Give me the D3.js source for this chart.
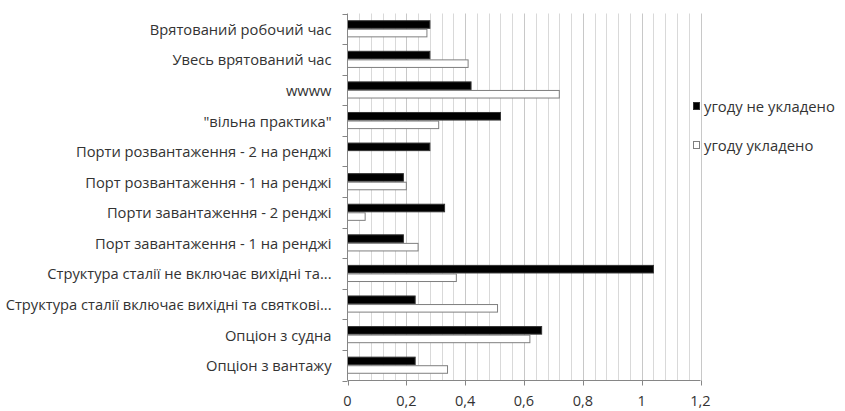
<!DOCTYPE html>
<html>
<head>
<meta charset="utf-8">
<script src="https://cdn.jsdelivr.net/npm/d3@7/dist/d3.min.js"></script>
<style>
  html, body { margin: 0; padding: 0; background: #fff; }
  svg { display: block; }
  text { font-family: "Open Sans", Lato, sans-serif; fill: #333; }
</style>
</head>
<body>
<svg id="chart" width="845" height="411"></svg>
<script>
const categories = [
  "Врятований робочий час",
  "Увесь врятований час",
  "wwww",
  "\"вільна практика\"",
  "Порти розвантаження - 2 на ренджі",
  "Порт розвантаження - 1 на ренджі",
  "Порти завантаження - 2 ренджі",
  "Порт завантаження - 1 на ренджі",
  "Структура сталії не включає вихідні та...",
  "Структура сталії включає вихідні та святкові...",
  "Опціон з судна",
  "Опціон з вантажу"
];
const seriesNames = ["угоду не укладено", "угоду укладено"];
const notConcluded = [0.28, 0.28, 0.42, 0.52, 0.28, 0.19, 0.33, 0.19, 1.04, 0.23, 0.66, 0.23];
const concluded    = [0.27, 0.41, 0.72, 0.31, 0, 0.20, 0.06, 0.24, 0.37, 0.51, 0.62, 0.34];
const xTicks = [0, 0.2, 0.4, 0.6, 0.8, 1, 1.2];
const xTickLabels = ["0", "0,2", "0,4", "0,6", "0,8", "1", "1,2"];
const minorStep = 0.04;

(function () {
const svg = d3.select("#chart");
const pLeft = 347.5, pRight = 700.5, pTop = 13.5, pBottom = 380.5;

const x = d3.scaleLinear().domain([0, 1.2]).range([pLeft, pRight]);
const y = d3.scaleBand().domain(categories).range([pTop, pBottom]).paddingInner(0.44).paddingOuter(0.22);
const ySub = d3.scaleBand().domain([0, 1]).range([0, y.bandwidth()]);

// gridlines
const minor = d3.range(0, 31).map(i => +(i * minorStep).toFixed(2)).filter(v => v > 0 && v <= 1.2001);
svg.append("g").selectAll("line").data(minor).join("line")
  .attr("x1", d => Math.round(x(d)) + 0.5).attr("x2", d => Math.round(x(d)) + 0.5)
  .attr("y1", pTop).attr("y2", pBottom)
  .attr("stroke", d => (Math.abs(d / 0.2 - Math.round(d / 0.2)) < 1e-6) ? "#c8c8c8" : "#d9d9d9")
  .attr("stroke-width", 1);

// bars
const groups = svg.append("g").selectAll("g").data(categories).join("g")
  .attr("transform", d => `translate(0,${y(d)})`);
groups.append("rect")
  .attr("x", pLeft).attr("y", ySub(0) + 0.5)
  .attr("width", (d, i) => x(notConcluded[i]) - pLeft)
  .attr("height", ySub.bandwidth() - 1)
  .attr("fill", "#000").attr("stroke", "#333").attr("stroke-width", 1);
groups.filter((d, i) => concluded[i] > 0).append("rect")
  .attr("x", pLeft).attr("y", ySub(1) + 0.5)
  .attr("width", d => x(concluded[categories.indexOf(d)]) - pLeft)
  .attr("height", ySub.bandwidth() - 1)
  .attr("fill", "#fff").attr("stroke", "#7f7f7f").attr("stroke-width", 1);

// y axis
const yAxis = svg.append("g");
yAxis.append("line").attr("x1", pLeft).attr("x2", pLeft).attr("y1", pTop).attr("y2", pBottom)
  .attr("stroke", "#868686");
const bounds = d3.range(0, categories.length + 1).map(i => pTop + i * (pBottom - pTop) / categories.length);
yAxis.selectAll("line.tk").data(bounds).join("line").attr("class", "tk")
  .attr("x1", pLeft - 5).attr("x2", pLeft).attr("y1", d => Math.round(d) + 0.5).attr("y2", d => Math.round(d) + 0.5)
  .attr("stroke", "#868686");
yAxis.selectAll("text").data(categories).join("text")
  .attr("x", pLeft - 16).attr("y", d => y(d) + y.bandwidth() / 2)
  .attr("text-anchor", "end").attr("dominant-baseline", "central")
  .style("font-size", "14.7px").text(d => d);

// x axis
const xAxis = svg.append("g");
xAxis.append("line").attr("x1", pLeft).attr("x2", pRight).attr("y1", pBottom).attr("y2", pBottom)
  .attr("stroke", "#868686");
xAxis.selectAll("line.tk").data(xTicks).join("line").attr("class", "tk")
  .attr("x1", d => Math.round(x(d)) + 0.5).attr("x2", d => Math.round(x(d)) + 0.5)
  .attr("y1", pBottom).attr("y2", pBottom + 5).attr("stroke", "#868686");
xAxis.selectAll("text").data(xTicks).join("text")
  .attr("x", d => x(d)).attr("y", 400.5)
  .attr("text-anchor", "middle").attr("dominant-baseline", "central")
  .style("font-size", "14.5px").text((d, i) => xTickLabels[i]);

// legend
const legend = svg.append("g");
const legY = [106, 145];
const legFill = ["#000", "#fff"];
const legStroke = ["#333", "#7f7f7f"];
seriesNames.forEach((name, i) => {
  legend.append("rect").attr("x", 693.5).attr("y", legY[i] - 3.5).attr("width", 6).attr("height", 7)
    .attr("fill", legFill[i]).attr("stroke", legStroke[i]);
  legend.append("text").attr("x", 704).attr("y", legY[i]).attr("dominant-baseline", "central")
    .style("font-size", "14.8px").text(name);
});
})();
</script>
</body>
</html>
